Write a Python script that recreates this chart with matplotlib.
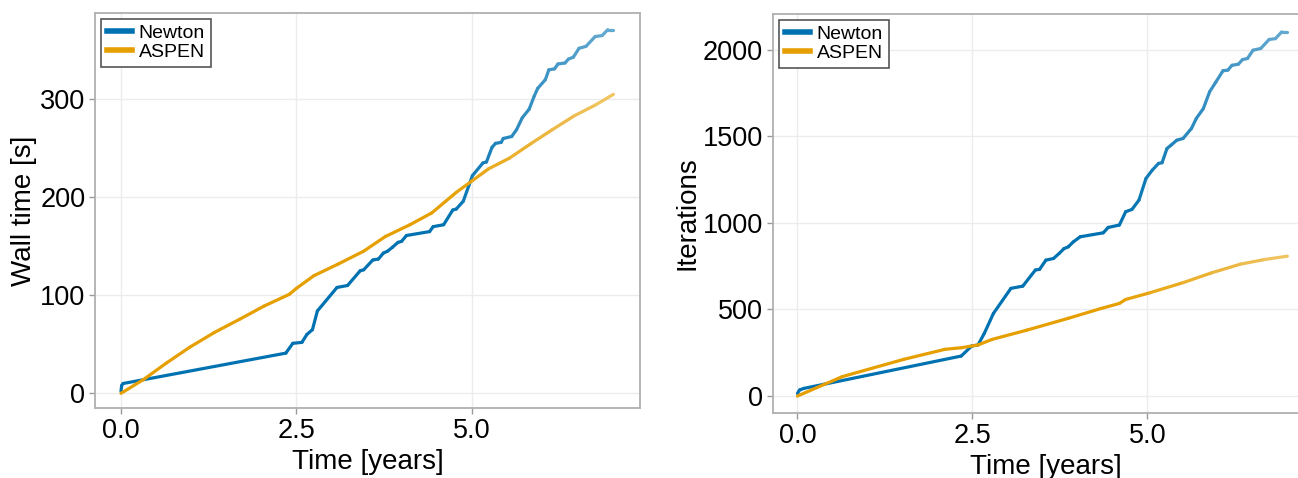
import numpy as np
import matplotlib.pyplot as plt
from matplotlib.collections import LineCollection
from matplotlib.lines import Line2D
from matplotlib.colors import to_rgb

plt.rcParams['font.family'] = ['Liberation Sans', 'DejaVu Sans']

series_names = ["Newton", "ASPEN"]
series_colors = ["#0072B2", "#E69F00"]

# left panel: wall time [s] against simulated time [years]
wall_newton_t = [0.0, 0.01, 0.03, 2.35, 2.45, 2.58, 2.65, 2.73, 2.8, 3.08, 3.23, 3.41, 3.46,
                 3.59, 3.67, 3.74, 3.8, 3.87, 3.95, 4.0, 4.07, 4.4, 4.45, 4.6, 4.73, 4.78,
                 4.88, 4.96, 5.01, 5.16, 5.21, 5.29, 5.34, 5.42, 5.45, 5.57, 5.64, 5.72, 5.82,
                 5.89, 5.94, 6.05, 6.1, 6.18, 6.23, 6.33, 6.38, 6.45, 6.53, 6.63, 6.76, 6.86,
                 6.94, 7.02]
wall_newton_s = [2, 8, 10, 41, 51, 52, 60, 65, 84, 108, 110, 125, 126, 136, 137, 143, 145, 149,
                 154, 155, 161, 165, 170, 172, 187, 188, 196, 212, 222, 235, 236, 251, 255, 256,
                 260, 262, 269, 281, 290, 303, 311, 320, 330, 331, 336, 337, 341, 343, 352, 354,
                 364, 365, 371, 371]
wall_aspen_t = [0.0, 0.32, 0.65, 0.98, 1.33, 1.69, 2.04, 2.4, 2.5, 2.75, 3.1, 3.46, 3.77, 4.12,
                4.43, 4.63, 4.78, 5.01, 5.24, 5.54, 5.85, 6.15, 6.46, 6.76, 7.02]
wall_aspen_s = [0, 14, 31, 47, 62, 75.5, 89, 101, 107, 120, 132, 145, 160, 172, 184, 196, 205,
                217, 229, 240, 255, 269, 283, 294, 305]

# right panel: nonlinear iterations against simulated time [years]
iter_newton_t = [0.0, 0.03, 0.09, 2.34, 2.49, 2.58, 2.67, 2.8, 3.05, 3.22, 3.4, 3.46, 3.55, 3.66,
                 3.74, 3.81, 3.87, 3.94, 4.04, 4.37, 4.44, 4.6, 4.69, 4.78, 4.88, 4.98, 5.07,
                 5.16, 5.21, 5.28, 5.34, 5.42, 5.51, 5.63, 5.7, 5.8, 5.89, 5.98, 6.08, 6.15,
                 6.21, 6.3, 6.36, 6.43, 6.51, 6.62, 6.74, 6.83, 6.92, 7.0]
iter_newton_n = [15, 35, 44, 231, 289, 295, 362, 477, 622, 635, 728, 732, 785, 795, 824, 852,
                 862, 890, 920, 943, 974, 988, 1065, 1078, 1132, 1257, 1305, 1344, 1348, 1430,
                 1450, 1478, 1488, 1546, 1604, 1661, 1758, 1815, 1879, 1883, 1911, 1917, 1944,
                 1950, 1998, 2008, 2060, 2065, 2104, 2104]
iter_aspen_t = [0.0, 0.64, 1.52, 2.11, 2.34, 2.58, 2.78, 3.28, 3.87, 4.34, 4.6, 4.69, 5.04, 5.51,
                5.92, 6.33, 6.68, 7.0]
iter_aspen_n = [0, 112, 212, 270, 279, 295, 327, 381, 449, 506, 535, 558, 597, 655, 712, 762,
                789, 808]


def faded_line(ax, t, y, color):
    t = np.asarray(t, float)
    y = np.asarray(y, float)
    pts = np.column_stack([t, y])
    segs = np.stack([pts[:-1], pts[1:]], axis=1)
    mid = 0.5 * (t[:-1] + t[1:])
    fade = np.clip((mid - 4.6) / 2.4, 0, 1) * 0.4
    base = np.array(to_rgb(color))
    cols = base[None, :] * (1 - fade[:, None]) + fade[:, None]
    lc = LineCollection(segs, colors=cols, linewidths=2.3, capstyle='round', joinstyle='round')
    ax.add_collection(lc)


def style_axes(ax):
    for sp in ax.spines.values():
        sp.set_color('#b0b0b0')
        sp.set_linewidth(1.3)
    ax.grid(True, color='#ececec', linewidth=1)
    ax.set_axisbelow(True)
    ax.tick_params(direction='out', length=4, width=1, color='#999999', labelsize=19.5, pad=3)
    ax.set_xticks([0, 2.5, 5.0])
    ax.set_xticklabels(["0.0", "2.5", "5.0"])
    handles = [Line2D([], [], color=c, lw=4) for c in series_colors]
    leg = ax.legend(handles, series_names, loc='upper left', fontsize=14, handlelength=1.3,
                    handletextpad=0.35, borderpad=0.3, labelspacing=0.05, borderaxespad=0.3,
                    fancybox=False, framealpha=1)
    leg.get_frame().set_edgecolor('#555555')
    leg.get_frame().set_linewidth(1.2)


fig = plt.figure(figsize=(12.98, 4.78), dpi=100)
ax1 = fig.add_axes([0.0732, 0.1464, 0.4199, 0.8264])
ax2 = fig.add_axes([0.5955, 0.136, 0.42, 0.835])

faded_line(ax1, wall_newton_t, wall_newton_s, series_colors[0])
faded_line(ax1, wall_aspen_t, wall_aspen_s, series_colors[1])
ax1.set_xlim(-0.37, 7.4)
ax1.set_ylim(-15, 388)
ax1.set_yticks([0, 100, 200, 300])
ax1.set_xlabel("Time [years]", fontsize=20, labelpad=4)
ax1.set_ylabel("Wall time [s]", fontsize=20, labelpad=2)
style_axes(ax1)

faded_line(ax2, iter_newton_t, iter_newton_n, series_colors[0])
faded_line(ax2, iter_aspen_t, iter_aspen_n, series_colors[1])
ax2.set_xlim(-0.35, 7.44)
ax2.set_ylim(-98, 2208)
ax2.set_yticks([0, 500, 1000, 1500, 2000])
ax2.set_xlabel("Time [years]", fontsize=20, labelpad=4)
ax2.set_ylabel("Iterations", fontsize=20, labelpad=2)
style_axes(ax2)

fig.savefig("out.png", dpi=100)
